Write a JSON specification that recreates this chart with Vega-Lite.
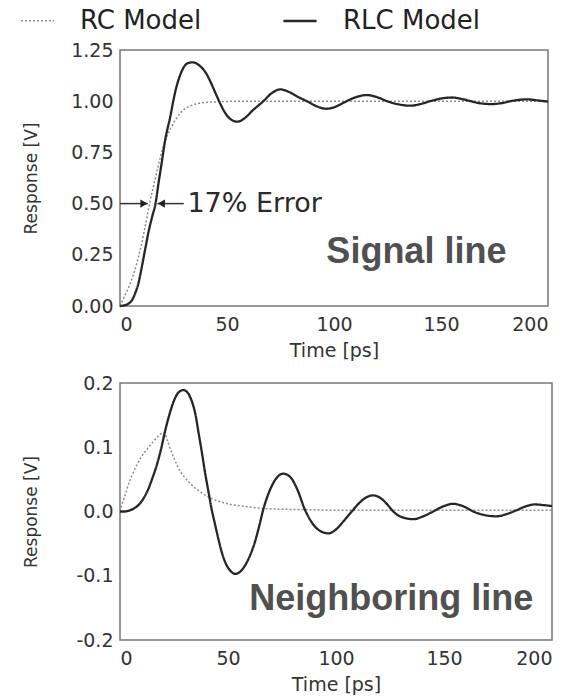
{
  "$schema": "https://vega.github.io/schema/vega-lite/v6.json",
  "background": "white",
  "padding": {"left": 20, "top": 3, "right": 10, "bottom": 0},
  "spacing": 12,
  "datasets": {
    "signal": [
      {"model": "RC Model", "t": 0, "v": 0}, {"model": "RC Model", "t": 2, "v": 0.045}, {"model": "RC Model", "t": 4, "v": 0.09},
      {"model": "RC Model", "t": 6, "v": 0.145}, {"model": "RC Model", "t": 8, "v": 0.215}, {"model": "RC Model", "t": 10, "v": 0.3},
      {"model": "RC Model", "t": 12, "v": 0.4}, {"model": "RC Model", "t": 14, "v": 0.51}, {"model": "RC Model", "t": 16, "v": 0.6},
      {"model": "RC Model", "t": 18, "v": 0.69}, {"model": "RC Model", "t": 20, "v": 0.77}, {"model": "RC Model", "t": 22, "v": 0.83},
      {"model": "RC Model", "t": 24, "v": 0.875}, {"model": "RC Model", "t": 26, "v": 0.91}, {"model": "RC Model", "t": 28, "v": 0.94},
      {"model": "RC Model", "t": 30, "v": 0.96}, {"model": "RC Model", "t": 33, "v": 0.977}, {"model": "RC Model", "t": 36, "v": 0.988},
      {"model": "RC Model", "t": 40, "v": 0.994}, {"model": "RC Model", "t": 45, "v": 0.997}, {"model": "RC Model", "t": 50, "v": 0.999},
      {"model": "RC Model", "t": 60, "v": 1.0}, {"model": "RC Model", "t": 80, "v": 1.0}, {"model": "RC Model", "t": 100, "v": 1.0},
      {"model": "RC Model", "t": 130, "v": 1.0}, {"model": "RC Model", "t": 160, "v": 1.0}, {"model": "RC Model", "t": 200, "v": 1.0},
      {"model": "RLC Model", "t": 0, "v": 0}, {"model": "RLC Model", "t": 2, "v": 0.003}, {"model": "RLC Model", "t": 4, "v": 0.012},
      {"model": "RLC Model", "t": 5.7, "v": 0.03}, {"model": "RLC Model", "t": 7, "v": 0.06}, {"model": "RLC Model", "t": 8.6, "v": 0.11},
      {"model": "RLC Model", "t": 10, "v": 0.18}, {"model": "RLC Model", "t": 11, "v": 0.235}, {"model": "RLC Model", "t": 12, "v": 0.29},
      {"model": "RLC Model", "t": 13.5, "v": 0.37}, {"model": "RLC Model", "t": 15, "v": 0.435}, {"model": "RLC Model", "t": 16.6, "v": 0.5},
      {"model": "RLC Model", "t": 18, "v": 0.6}, {"model": "RLC Model", "t": 19.5, "v": 0.7}, {"model": "RLC Model", "t": 21.1, "v": 0.81},
      {"model": "RLC Model", "t": 23.4, "v": 0.92}, {"model": "RLC Model", "t": 25.9, "v": 1.05}, {"model": "RLC Model", "t": 29, "v": 1.15},
      {"model": "RLC Model", "t": 31.5, "v": 1.185}, {"model": "RLC Model", "t": 34, "v": 1.19}, {"model": "RLC Model", "t": 37, "v": 1.175},
      {"model": "RLC Model", "t": 40, "v": 1.14}, {"model": "RLC Model", "t": 42.5, "v": 1.09}, {"model": "RLC Model", "t": 44.6, "v": 1.04},
      {"model": "RLC Model", "t": 47, "v": 0.985}, {"model": "RLC Model", "t": 49.3, "v": 0.94}, {"model": "RLC Model", "t": 52, "v": 0.91},
      {"model": "RLC Model", "t": 54.8, "v": 0.9}, {"model": "RLC Model", "t": 58.6, "v": 0.92}, {"model": "RLC Model", "t": 62, "v": 0.955},
      {"model": "RLC Model", "t": 67, "v": 1.0}, {"model": "RLC Model", "t": 71, "v": 1.04}, {"model": "RLC Model", "t": 74.8, "v": 1.058},
      {"model": "RLC Model", "t": 79, "v": 1.045}, {"model": "RLC Model", "t": 83, "v": 1.022}, {"model": "RLC Model", "t": 87.3, "v": 1.0},
      {"model": "RLC Model", "t": 92, "v": 0.975}, {"model": "RLC Model", "t": 96.6, "v": 0.963}, {"model": "RLC Model", "t": 100, "v": 0.97},
      {"model": "RLC Model", "t": 104, "v": 0.99}, {"model": "RLC Model", "t": 109, "v": 1.015}, {"model": "RLC Model", "t": 115.3, "v": 1.03},
      {"model": "RLC Model", "t": 120, "v": 1.02}, {"model": "RLC Model", "t": 124.8, "v": 1.0}, {"model": "RLC Model", "t": 130, "v": 0.985},
      {"model": "RLC Model", "t": 135.7, "v": 0.978}, {"model": "RLC Model", "t": 140, "v": 0.985}, {"model": "RLC Model", "t": 145, "v": 1.0},
      {"model": "RLC Model", "t": 150, "v": 1.013}, {"model": "RLC Model", "t": 155.2, "v": 1.018}, {"model": "RLC Model", "t": 160, "v": 1.01},
      {"model": "RLC Model", "t": 163.8, "v": 1.0}, {"model": "RLC Model", "t": 168, "v": 0.99}, {"model": "RLC Model", "t": 173.9, "v": 0.986},
      {"model": "RLC Model", "t": 178, "v": 0.99}, {"model": "RLC Model", "t": 182.5, "v": 1.0}, {"model": "RLC Model", "t": 186, "v": 1.006},
      {"model": "RLC Model", "t": 190.3, "v": 1.009}, {"model": "RLC Model", "t": 195, "v": 1.004}, {"model": "RLC Model", "t": 200, "v": 0.998}
    ],
    "neighbor": [
      {"model": "RC Model", "t": 0, "v": 0}, {"model": "RC Model", "t": 1, "v": 0.012}, {"model": "RC Model", "t": 2.3, "v": 0.025},
      {"model": "RC Model", "t": 4, "v": 0.043}, {"model": "RC Model", "t": 6.2, "v": 0.061}, {"model": "RC Model", "t": 8, "v": 0.074},
      {"model": "RC Model", "t": 10.1, "v": 0.086}, {"model": "RC Model", "t": 12.5, "v": 0.097}, {"model": "RC Model", "t": 14.7, "v": 0.106},
      {"model": "RC Model", "t": 17, "v": 0.115}, {"model": "RC Model", "t": 19, "v": 0.121}, {"model": "RC Model", "t": 20.5, "v": 0.123},
      {"model": "RC Model", "t": 22, "v": 0.11}, {"model": "RC Model", "t": 23.1, "v": 0.099}, {"model": "RC Model", "t": 25, "v": 0.083},
      {"model": "RC Model", "t": 27, "v": 0.068}, {"model": "RC Model", "t": 30, "v": 0.053}, {"model": "RC Model", "t": 33.3, "v": 0.041},
      {"model": "RC Model", "t": 37, "v": 0.031}, {"model": "RC Model", "t": 42.5, "v": 0.02}, {"model": "RC Model", "t": 50, "v": 0.012},
      {"model": "RC Model", "t": 60, "v": 0.007}, {"model": "RC Model", "t": 70, "v": 0.004}, {"model": "RC Model", "t": 85, "v": 0.003},
      {"model": "RC Model", "t": 100, "v": 0.002}, {"model": "RC Model", "t": 150, "v": 0.002}, {"model": "RC Model", "t": 200, "v": 0.002},
      {"model": "RLC Model", "t": 0, "v": 0}, {"model": "RLC Model", "t": 2, "v": 0}, {"model": "RLC Model", "t": 3.9, "v": 0.001},
      {"model": "RLC Model", "t": 6, "v": 0.004}, {"model": "RLC Model", "t": 8.5, "v": 0.01}, {"model": "RLC Model", "t": 11, "v": 0.021},
      {"model": "RLC Model", "t": 13.1, "v": 0.035}, {"model": "RLC Model", "t": 15, "v": 0.052}, {"model": "RLC Model", "t": 17, "v": 0.072},
      {"model": "RLC Model", "t": 19, "v": 0.097}, {"model": "RLC Model", "t": 20.8, "v": 0.124}, {"model": "RLC Model", "t": 22.8, "v": 0.15},
      {"model": "RLC Model", "t": 24.7, "v": 0.17}, {"model": "RLC Model", "t": 27, "v": 0.185}, {"model": "RLC Model", "t": 29.3, "v": 0.189},
      {"model": "RLC Model", "t": 31.3, "v": 0.185}, {"model": "RLC Model", "t": 33.2, "v": 0.172}, {"model": "RLC Model", "t": 35, "v": 0.15},
      {"model": "RLC Model", "t": 36.3, "v": 0.124}, {"model": "RLC Model", "t": 38, "v": 0.09}, {"model": "RLC Model", "t": 39.4, "v": 0.06},
      {"model": "RLC Model", "t": 41, "v": 0.03}, {"model": "RLC Model", "t": 42.4, "v": 0.004}, {"model": "RLC Model", "t": 44, "v": -0.02},
      {"model": "RLC Model", "t": 45.5, "v": -0.042}, {"model": "RLC Model", "t": 47, "v": -0.062}, {"model": "RLC Model", "t": 48.6, "v": -0.078},
      {"model": "RLC Model", "t": 51, "v": -0.092}, {"model": "RLC Model", "t": 53.5, "v": -0.097}, {"model": "RLC Model", "t": 55.5, "v": -0.094},
      {"model": "RLC Model", "t": 57.9, "v": -0.084}, {"model": "RLC Model", "t": 60, "v": -0.07}, {"model": "RLC Model", "t": 62.5, "v": -0.047},
      {"model": "RLC Model", "t": 64.5, "v": -0.022}, {"model": "RLC Model", "t": 66.4, "v": 0.004}, {"model": "RLC Model", "t": 69, "v": 0.03},
      {"model": "RLC Model", "t": 72, "v": 0.05}, {"model": "RLC Model", "t": 75.6, "v": 0.059}, {"model": "RLC Model", "t": 79, "v": 0.053},
      {"model": "RLC Model", "t": 82, "v": 0.035}, {"model": "RLC Model", "t": 85.6, "v": 0.003}, {"model": "RLC Model", "t": 89, "v": -0.018},
      {"model": "RLC Model", "t": 92.5, "v": -0.03}, {"model": "RLC Model", "t": 96.4, "v": -0.034}, {"model": "RLC Model", "t": 100, "v": -0.028},
      {"model": "RLC Model", "t": 103.5, "v": -0.015}, {"model": "RLC Model", "t": 107.3, "v": 0.0}, {"model": "RLC Model", "t": 111, "v": 0.014},
      {"model": "RLC Model", "t": 114, "v": 0.022}, {"model": "RLC Model", "t": 117.3, "v": 0.025}, {"model": "RLC Model", "t": 121, "v": 0.02},
      {"model": "RLC Model", "t": 124, "v": 0.01}, {"model": "RLC Model", "t": 126.5, "v": 0.0}, {"model": "RLC Model", "t": 130, "v": -0.008},
      {"model": "RLC Model", "t": 135.8, "v": -0.012}, {"model": "RLC Model", "t": 140, "v": -0.008}, {"model": "RLC Model", "t": 145, "v": 0.0},
      {"model": "RLC Model", "t": 149, "v": 0.007}, {"model": "RLC Model", "t": 154.3, "v": 0.012}, {"model": "RLC Model", "t": 159, "v": 0.008},
      {"model": "RLC Model", "t": 163.6, "v": 0.0}, {"model": "RLC Model", "t": 168, "v": -0.005}, {"model": "RLC Model", "t": 174.4, "v": -0.0075},
      {"model": "RLC Model", "t": 179, "v": -0.004}, {"model": "RLC Model", "t": 183.6, "v": 0.002}, {"model": "RLC Model", "t": 187, "v": 0.007},
      {"model": "RLC Model", "t": 192.1, "v": 0.011}, {"model": "RLC Model", "t": 196, "v": 0.01}, {"model": "RLC Model", "t": 200, "v": 0.0085}
    ],
    "arrows": [
      {"t": 0, "t2": 13, "v": 0.5},
      {"t": 17.5, "t2": 29.8, "v": 0.5}
    ],
    "heads": [
      {"t": 11.2, "v": 0.5, "dir": "right"},
      {"t": 19.3, "v": 0.5, "dir": "left"}
    ],
    "errorLabel": [{"t": 31.5, "v": 0.5, "label": "17% Error"}],
    "signalLabel": [{"t": 138.5, "v": 0.21, "label": "Signal line"}],
    "neighborLabel": [{"t": 125.6, "v": -0.153, "label": "Neighboring line"}]
  },
  "vconcat": [
    {
      "width": 428,
      "height": 256,
      "layer": [
        {
          "data": {"name": "signal"},
          "mark": {"type": "line", "interpolate": "monotone"},
          "encoding": {
            "x": {"field": "t", "type": "quantitative", "scale": {"domain": [0, 200], "nice": false},
                  "axis": {"values": [0, 50, 100, 150, 200], "title": "Time [ps]"}},
            "y": {"field": "v", "type": "quantitative", "scale": {"domain": [0, 1.25], "nice": false},
                  "axis": {"values": [0, 0.25, 0.5, 0.75, 1, 1.25], "format": ".2f", "title": "Response [V]", "titlePadding": 30}},
            "color": {"field": "model", "type": "nominal", "scale": {"domain": ["RC Model", "RLC Model"], "range": ["#8c8c8c", "#262626"]}, "legend": {"title": null}},
            "strokeDash": {"field": "model", "type": "nominal", "scale": {"domain": ["RC Model", "RLC Model"], "range": [[2, 2], [1, 0]]}, "legend": {"title": null}},
            "strokeWidth": {"field": "model", "type": "nominal", "scale": {"domain": ["RC Model", "RLC Model"], "range": [1.5, 2.3]}, "legend": null}
          }
        },
        {
          "data": {"name": "arrows"},
          "mark": {"type": "rule", "color": "#333333", "strokeWidth": 1.5},
          "encoding": {
            "x": {"field": "t", "type": "quantitative"},
            "x2": {"field": "t2"},
            "y": {"field": "v", "type": "quantitative"}
          }
        },
        {
          "data": {"name": "heads"},
          "mark": {"type": "point", "filled": true, "color": "#222222", "size": 70, "opacity": 1},
          "encoding": {
            "x": {"field": "t", "type": "quantitative"},
            "y": {"field": "v", "type": "quantitative"},
            "shape": {"field": "dir", "type": "nominal", "scale": {"domain": ["right", "left"], "range": ["triangle-right", "triangle-left"]}, "legend": null}
          }
        },
        {
          "data": {"name": "errorLabel"},
          "mark": {"type": "text", "align": "left", "baseline": "middle", "font": "DejaVu Sans", "fontSize": 27, "color": "#2a2a2a"},
          "encoding": {
            "x": {"field": "t", "type": "quantitative"},
            "y": {"field": "v", "type": "quantitative"},
            "text": {"field": "label"}
          }
        },
        {
          "data": {"name": "signalLabel"},
          "mark": {"type": "text", "align": "center", "baseline": "alphabetic", "font": "Liberation Sans", "fontWeight": "bold", "fontSize": 36, "color": "#505050"},
          "encoding": {
            "x": {"field": "t", "type": "quantitative"},
            "y": {"field": "v", "type": "quantitative"},
            "text": {"field": "label"}
          }
        }
      ]
    },
    {
      "width": 432,
      "height": 257,
      "layer": [
        {
          "data": {"name": "neighbor"},
          "mark": {"type": "line", "interpolate": "monotone"},
          "encoding": {
            "x": {"field": "t", "type": "quantitative", "scale": {"domain": [0, 200], "nice": false},
                  "axis": {"values": [0, 50, 100, 150, 200], "title": "Time [ps]"}},
            "y": {"field": "v", "type": "quantitative", "scale": {"domain": [-0.2, 0.2], "nice": false},
                  "axis": {"values": [-0.2, -0.1, 0, 0.1, 0.2], "labelExpr": "replace(format(datum.value, '.1f'), '\u2212', '-')", "title": "Response [V]", "titlePadding": 35}},
            "color": {"field": "model", "type": "nominal", "scale": {"domain": ["RC Model", "RLC Model"], "range": ["#8c8c8c", "#262626"]}, "legend": {"title": null}},
            "strokeDash": {"field": "model", "type": "nominal", "scale": {"domain": ["RC Model", "RLC Model"], "range": [[2, 2], [1, 0]]}, "legend": {"title": null}},
            "strokeWidth": {"field": "model", "type": "nominal", "scale": {"domain": ["RC Model", "RLC Model"], "range": [1.5, 2.3]}, "legend": null}
          }
        },
        {
          "data": {"name": "neighborLabel"},
          "mark": {"type": "text", "align": "center", "baseline": "alphabetic", "font": "Liberation Sans", "fontWeight": "bold", "fontSize": 36, "color": "#505050"},
          "encoding": {
            "x": {"field": "t", "type": "quantitative"},
            "y": {"field": "v", "type": "quantitative"},
            "text": {"field": "label"}
          }
        }
      ]
    }
  ],
  "config": {
    "font": "DejaVu Sans",
    "view": {"stroke": "#777777", "strokeWidth": 1.5},
    "axis": {
      "grid": false, "domain": false, "ticks": false,
      "labelFont": "DejaVu Sans", "labelFontSize": 19, "labelColor": "#333333", "labelPadding": 7,
      "titleFont": "DejaVu Sans", "titleFontSize": 19, "titleFontWeight": "normal", "titleColor": "#333333"
    },
    "axisY": {"titleFontSize": 17},
    "axisX": {"titlePadding": 7, "labelPadding": 9},
    "legend": {
      "orient": "none", "legendX": -100, "legendY": -47, "direction": "horizontal",
      "labelFont": "DejaVu Sans", "labelFontSize": 26, "labelColor": "#222222",
      "symbolType": "stroke", "symbolSize": 1100, "symbolStrokeWidth": 2, "labelOffset": 25, "columnPadding": 76
    }
  }
}
